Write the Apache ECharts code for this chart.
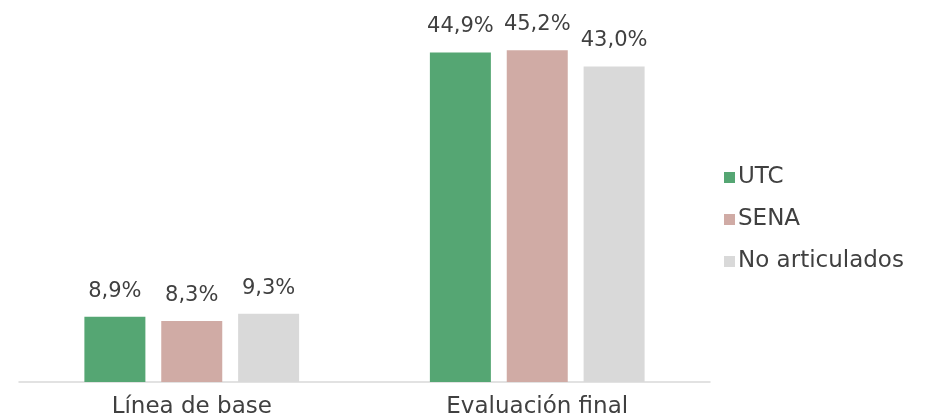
<!DOCTYPE html>
<html><head><meta charset="utf-8">
<script src="https://cdn.jsdelivr.net/npm/echarts@6/dist/echarts.min.js"></script>
<style>html,body{margin:0;padding:0;background:#fff}#c{width:925px;height:415px}</style>
</head><body><div id="c"></div>
<script>
const categories = ['Línea de base', 'Evaluación final'];
const seriesNames = ['UTC', 'SENA', 'No articulados'];
const utc = [8.9, 44.9];
const sena = [8.3, 45.2];
const noArt = [9.3, 43.0];
const colors = ['#55A673', '#D0ABA5', '#D9D9D9'];

const fmt = p => p.value.toFixed(1).replace('.', ',') + '%';
const font = 'DejaVu Sans';
const mk = (name, data, color) => ({
  name, type: 'bar', data, barWidth: 61, barGap: '26%',
  itemStyle: { color },
  label: { show: true, position: 'top', distance: 15, formatter: fmt, color: '#404040', fontSize: 21, fontFamily: font }
});
const chart = echarts.init(document.getElementById('c'));
chart.setOption({
  animation: false,
  grid: { left: 19, right: 215, top: 15, bottom: 33, containLabel: false, outerBoundsMode: 'none' },
  legend: {
    orient: 'vertical', left: 719, top: 161, icon: 'rect', itemWidth: 11, itemHeight: 11, itemGap: 19,
    textStyle: { color: '#404040', fontSize: 23, fontFamily: font, padding: [0, 0, 0, -2] },
    data: seriesNames
  },
  xAxis: {
    type: 'category', data: categories,
    axisLine: { lineStyle: { color: '#d9d9d9', width: 1.5 } },
    axisTick: { show: false },
    axisLabel: { color: '#404040', fontSize: 23, fontFamily: font, margin: 14 }
  },
  yAxis: { type: 'value', min: 0, max: 50, show: false, splitLine: { show: false } },
  series: [mk(seriesNames[0], utc, colors[0]), mk(seriesNames[1], sena, colors[1]), mk(seriesNames[2], noArt, colors[2])]
});
</script></body></html>
